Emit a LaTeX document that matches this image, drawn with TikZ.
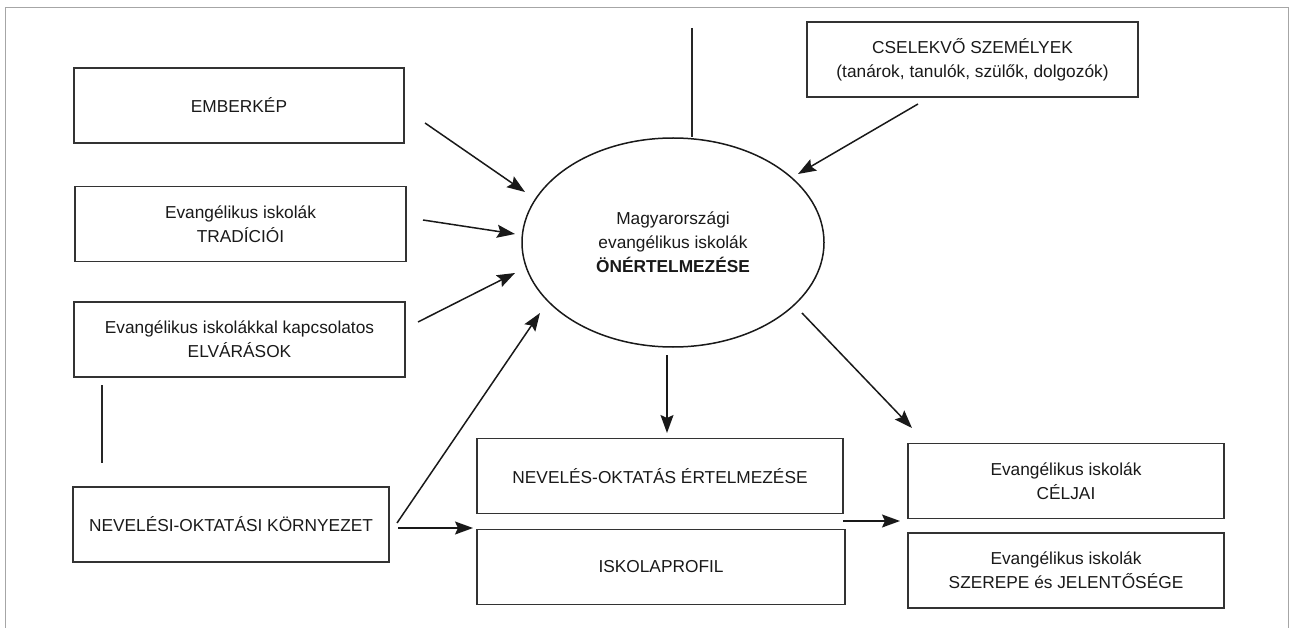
\documentclass[tikz,border=0pt]{standalone}
\usepackage{fontspec}
\setmainfont{Liberation Sans}
\usetikzlibrary{shapes.geometric,arrows.meta}

\begin{document}
\begin{tikzpicture}[x=1pt, y=-1pt,
    every node/.style={align=center, text=black!90, font=\fontsize{17.3}{24}\selectfont},
    box/.style={draw=black!80, line width=1.8pt, inner sep=0pt, minimum height=75},
    arr/.style={-{Stealth[length=18pt, width=13pt, inset=3pt]}, line width=1.5pt, draw=black!90}]
    \useasboundingbox (0,0) rectangle (1290,628);
    \draw[black!35, line width=1pt] (5,628) -- (5,8) -- (1288,8) -- (1288,628);

    % boxes
    \node[box, minimum width=330] (emb) at (239,105.5) {EMBERKÉP};
    \node[box, minimum width=331] (trad) at (240.5,224) {Evangélikus iskolák\\TRADÍCIÓI};
    \node[box, minimum width=331] (elv) at (239.5,339.5) {Evangélikus iskolákkal kapcsolatos\\ELVÁRÁSOK};
    \node[box, minimum width=316] (korny) at (231,524.5) {NEVELÉSI-OKTATÁSI KÖRNYEZET};
    \node[box, minimum width=366] (ertel) at (660,476) {NEVELÉS-OKTATÁS ÉRTELMEZÉSE};
    \node[box, minimum width=368] (prof) at (661,567) {ISKOLAPROFIL};
    \node[box, minimum width=316] (cel) at (1066,481) {Evangélikus iskolák\\CÉLJAI};
    \node[box, minimum width=316] (szer) at (1066,570.5) {Evangélikus iskolák\\SZEREPE és JELENTŐSÉGE};
    \node[box, minimum width=331] (csel) at (972.5,59.5) {CSELEKVŐ SZEMÉLYEK\\(tanárok, tanulók, szülők, dolgozók)};
    \node[ellipse, draw=black!90, line width=1.5pt, inner sep=0pt, minimum width=302, minimum height=209] (ell) at (673,242.5)
        {Magyarországi\\evangélikus iskolák\\\textbf{ÖNÉRTELMEZÉSE}};

    % arrow ends
    \coordinate (s1) at (425,123); \coordinate (e1) at (525,192);
    \coordinate (s2) at (423,220); \coordinate (e2) at (515,234);
    \coordinate (s3) at (418,322); \coordinate (e3) at (515,273);
    \coordinate (s4) at (397,523); \coordinate (e4) at (540,313);
    \coordinate (s5) at (398,528); \coordinate (e5) at (473,528);
    \coordinate (s6) at (667,355); \coordinate (e6) at (667,433);
    \coordinate (s7) at (802,313); \coordinate (e7) at (912,428);
    \coordinate (s8) at (843,521); \coordinate (e8) at (900,521);
    \coordinate (s9) at (918,104); \coordinate (e9) at (798,174);

    \foreach \i in {1,...,9} {
        \draw[arr] (s\i) -- (e\i);
    }

    \coordinate (top) at (692,28);
    \coordinate (v1) at (102,385);
    \coordinate (v2) at (102,463);
    \draw[line width=1.5pt, black!85] (top) -- (top |- ell.north);
    \draw[line width=1.5pt, black!85] (v1) -- (v2);
\end{tikzpicture}
\end{document}
